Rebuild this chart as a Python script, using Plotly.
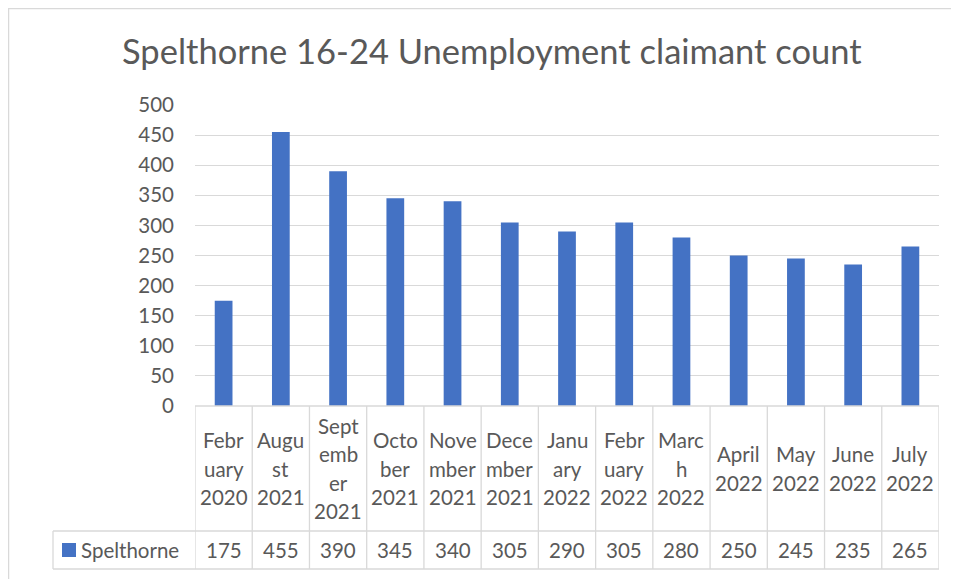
import plotly.graph_objects as go

W, H = 959, 579

title_text = "Spelthorne 16-24 Unemployment claimant count"
series_name = "Spelthorne"
categories = ["February 2020", "August 2021", "September 2021", "October 2021",
              "November 2021", "December 2021", "January 2022", "February 2022",
              "March 2022", "April 2022", "May 2022", "June 2022", "July 2022"]
category_labels = ["Febr<br>uary<br>2020", "Augu<br>st<br>2021", "Sept<br>emb<br>er<br>2021",
                   "Octo<br>ber<br>2021", "Nove<br>mber<br>2021", "Dece<br>mber<br>2021",
                   "Janu<br>ary<br>2022", "Febr<br>uary<br>2022", "Marc<br>h<br>2022",
                   "April<br>2022", "May<br>2022", "June<br>2022", "July<br>2022"]
values = [175, 455, 390, 345, 340, 305, 290, 305, 280, 250, 245, 235, 265]
y_ticks = [0, 50, 100, 150, 200, 250, 300, 350, 400, 450, 500]

BAR = "#4472C4"
TXT = "#595959"
LINE = "#d9d9d9"
FONT = "Lato, Carlito, Calibri, sans-serif"

OFF = 8  # page body margin offset


def px(x):
    return (x - OFF) / W


def py(y):
    return 1 - (y - OFF) / H


# layout geometry in page pixels
PL, PR, PT, PB = 195, 939, 105, 406
ROW1_B = 531   # bottom of category row
ROW2_B = 569   # bottom of value row
LEG_L = 53     # left of legend cell
LINE_H = 28.5  # line spacing of wrapped category labels

n = len(categories)
xs = list(range(n))

fig = go.Figure()
fig.add_trace(go.Bar(x=xs, y=values, marker=dict(color=BAR, line=dict(width=0)),
                     width=0.31, name=series_name, hoverinfo="y"))

shapes = []
# outer chart border (top and left)
shapes.append(dict(type="line", xref="paper", yref="paper", x0=0.5 / W, x1=0.5 / W, y0=0, y1=1,
                   line=dict(color=LINE, width=1.5)))
shapes.append(dict(type="line", xref="paper", yref="paper", x0=0, x1=1, y0=1 - 0.5 / H, y1=1 - 0.5 / H,
                   line=dict(color=LINE, width=1.5)))
# data table verticals
for i in range(n + 1):
    shapes.append(dict(type="line", xref="x", yref="paper", x0=i - 0.5, x1=i - 0.5,
                       y0=py(ROW2_B), y1=py(PB), line=dict(color=LINE, width=1.3)))
shapes.append(dict(type="line", xref="paper", yref="paper", x0=px(LEG_L), x1=px(LEG_L),
                   y0=py(ROW2_B), y1=py(ROW1_B), line=dict(color=LINE, width=1.3)))
# data table horizontals
shapes.append(dict(type="line", xref="x", yref="paper", x0=-0.5, x1=n - 0.5,
                   y0=py(PB), y1=py(PB), line=dict(color=LINE, width=1.3)))
for yy in (ROW1_B, ROW2_B):
    shapes.append(dict(type="line", xref="paper", yref="paper", x0=px(LEG_L), x1=px(PR),
                       y0=py(yy), y1=py(yy), line=dict(color=LINE, width=1.3)))
# legend key
shapes.append(dict(type="rect", xref="paper", yref="paper", x0=px(62), x1=px(76),
                   y0=py(557), y1=py(543), fillcolor=BAR, line=dict(width=0)))

annotations = []
annotations.append(dict(text=title_text, xref="paper", yref="paper", x=px(492), y=py(50),
                        xanchor="center", yanchor="middle", showarrow=False,
                        font=dict(family=FONT, size=34.5, color=TXT)))
row1_c = (PB + ROW1_B) / 2
row2_c = (ROW1_B + ROW2_B) / 2
for i in range(n):
    parts = category_labels[i].split("<br>")
    k = len(parts)
    for j, part in enumerate(parts):
        yc = row1_c + (j - (k - 1) / 2) * LINE_H
        annotations.append(dict(text=part, xref="x", yref="paper", x=i, y=py(yc),
                                xanchor="center", yanchor="middle", showarrow=False,
                                font=dict(family=FONT, size=20.5, color=TXT)))
    annotations.append(dict(text=str(values[i]), xref="x", yref="paper", x=i, y=py(row2_c),
                            xanchor="center", yanchor="middle", showarrow=False,
                            font=dict(family=FONT, size=20.5, color=TXT)))
annotations.append(dict(text=series_name, xref="paper", yref="paper", x=px(79), y=py(row2_c),
                        xanchor="left", yanchor="middle", showarrow=False,
                        font=dict(family=FONT, size=20.5, color=TXT)))

fig.update_layout(
    width=W, height=H,
    autosize=False,
    margin=dict(l=0, r=0, t=0, b=0, pad=0, autoexpand=False),
    paper_bgcolor="white", plot_bgcolor="white",
    showlegend=False,
    xaxis=dict(domain=[px(PL), px(PR)], range=[-0.5, n - 0.5], showticklabels=False,
               showgrid=False, zeroline=False, showline=False, ticks="", fixedrange=True,
               automargin=False),
    yaxis=dict(domain=[py(PB), py(PT)], range=[0, 500], tickvals=y_ticks,
               showgrid=True, gridcolor=LINE, gridwidth=1, zeroline=False, showline=False,
               ticks="", ticklabelstandoff=20, automargin=False,
               tickfont=dict(family=FONT, size=20.5, color=TXT), fixedrange=True),
    shapes=shapes,
    annotations=annotations,
)

fig.write_html("out.html")
